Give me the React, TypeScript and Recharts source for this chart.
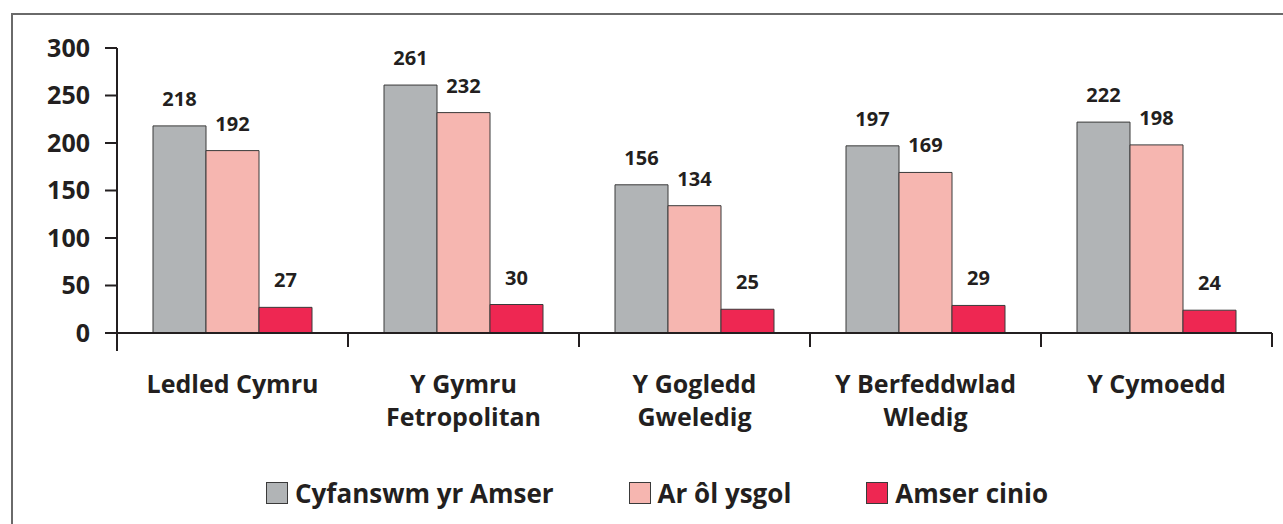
import { BarChart, Bar, XAxis, YAxis, LabelList } from 'recharts';

const categories = [
  'Ledled Cymru',
  'Y Gymru\nFetropolitan',
  'Y Gogledd\nGweledig',
  'Y Berfeddwlad\nWledig',
  'Y Cymoedd'
];
const totalTime = [218, 261, 156, 197, 222];
const afterSchool = [192, 232, 134, 169, 198];
const lunchTime = [27, 30, 25, 29, 24];
const yTicks = [0, 50, 100, 150, 200, 250, 300];

const seriesNames = ['Cyfanswm yr Amser', 'Ar ôl ysgol', 'Amser cinio'];
const seriesColors = ['#b1b4b6', '#f6b6b0', '#ee2752'];

const INK = '#231f20';
const FONT = '"Open Sans", "Noto Sans", sans-serif';

const data = categories.map((name, i) => ({
  name,
  total: totalTime[i],
  after: afterSchool[i],
  lunch: lunchTime[i]
}));

const CategoryTick = (props: any) => {
  const { x, y, payload, index, width, visibleTicksCount } = props;
  const bw = (width || 1155) / (visibleTicksCount || categories.length);
  const lines = String(payload.value).split('\n');
  return (
    <g>
      {index === 0 && (
        <line x1={x - bw / 2} x2={x - bw / 2} y1={y} y2={y + 18} stroke={INK} strokeWidth={2} />
      )}
      <line x1={x + bw / 2} x2={x + bw / 2} y1={y} y2={y + 14} stroke={INK} strokeWidth={2} />
      {lines.map((line, i) => (
        <text
          key={i}
          x={x}
          y={y + 60 + i * 33}
          textAnchor="middle"
          fill={INK}
          fontSize={25}
          fontWeight="bold"
          fontFamily={FONT}
        >
          {line}
        </text>
      ))}
    </g>
  );
};

const LegendRow = () => (
  <div
    style={{
      position: 'absolute',
      top: 482,
      left: 266,
      display: 'flex',
      gap: 75,
      fontFamily: FONT
    }}
  >
    {seriesNames.map((name, i) => (
      <div key={name} style={{ display: 'flex', alignItems: 'center', gap: 7 }}>
        <div
          style={{
            width: 20,
            height: 20,
            background: seriesColors[i],
            border: '1px solid #3a3a3a'
          }}
        />
        <span style={{ fontSize: 26, fontWeight: 'bold', color: INK, lineHeight: '22px' }}>{name}</span>
      </div>
    ))}
  </div>
);

export default function App() {
  return (
    <div
      style={{
        position: 'absolute',
        left: 0,
        top: 0,
        width: 1283,
        height: 524,
        overflow: 'hidden',
        background: '#fff'
      }}
    >
      <div
        style={{
          position: 'absolute',
          left: 11,
          top: 13,
          width: 1400,
          height: 700,
          borderTop: '2px solid #6a6a6a',
          borderLeft: '2px solid #6a6a6a'
        }}
      />
      <div style={{ position: 'absolute', left: 0, top: 0 }}>
        <BarChart
          width={1283}
          height={524}
          data={data}
          margin={{ top: 48, right: 11, bottom: 71, left: 0 }}
          barCategoryGap={36}
          barGap={0}
        >
          <XAxis
            dataKey="name"
            interval={0}
            height={120}
            tickLine={false}
            tickSize={0}
            tickMargin={0}
            axisLine={{ stroke: INK, strokeWidth: 2 }}
            tick={<CategoryTick />}
          />
          <YAxis
            width={117}
            domain={[0, 300]}
            ticks={yTicks}
            interval={0}
            tickSize={12}
            tickMargin={15}
            axisLine={{ stroke: INK, strokeWidth: 2 }}
            tickLine={{ stroke: INK, strokeWidth: 2 }}
            tick={{ fill: INK, fontSize: 25, fontWeight: 'bold', fontFamily: FONT }}
          />
          <Bar dataKey="total" name={seriesNames[0]} fill={seriesColors[0]} stroke="#3a3a3a" strokeWidth={1} isAnimationActive={false}>
            <LabelList dataKey="total" position="top" offset={20} fill={INK} fontSize={20} fontWeight="bold" fontFamily={FONT} />
          </Bar>
          <Bar dataKey="after" name={seriesNames[1]} fill={seriesColors[1]} stroke="#3a3a3a" strokeWidth={1} isAnimationActive={false}>
            <LabelList dataKey="after" position="top" offset={20} fill={INK} fontSize={20} fontWeight="bold" fontFamily={FONT} />
          </Bar>
          <Bar dataKey="lunch" name={seriesNames[2]} fill={seriesColors[2]} stroke="#3a3a3a" strokeWidth={1} isAnimationActive={false}>
            <LabelList dataKey="lunch" position="top" offset={20} fill={INK} fontSize={20} fontWeight="bold" fontFamily={FONT} />
          </Bar>
        </BarChart>
      </div>
      <LegendRow />
    </div>
  );
}
